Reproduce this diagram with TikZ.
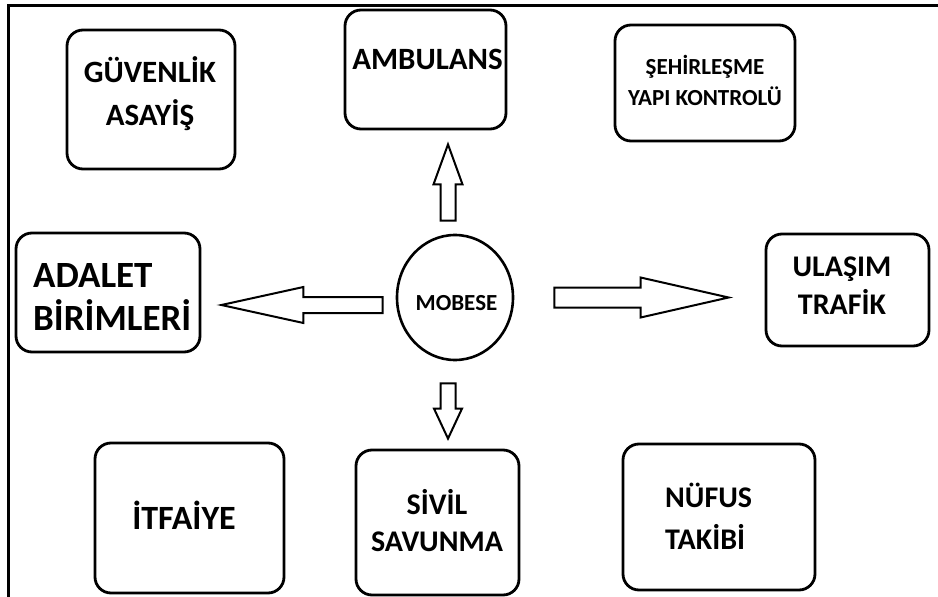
\documentclass[tikz,border=0pt]{standalone}
\usepackage{fontspec}
\setmainfont{Carlito}
\usetikzlibrary{shapes.geometric,calc}

\tikzset{
  frame/.style={line width=3pt},
  box/.style={draw, line width=2.8pt, rounded corners=16pt, inner sep=0pt},
  hub/.style={draw, ellipse, line width=2.6pt, minimum width=116pt, minimum height=125pt, inner sep=0pt},
  lbl/.style 2 args={font=\bfseries\fontsize{#1}{#2}\selectfont, align=center, inner sep=0pt, anchor=base},
  lblL/.style 2 args={font=\bfseries\fontsize{#1}{#2}\selectfont, align=left, inner sep=0pt, anchor=base west},
  barrow/.style={draw, line width=2pt, fill=white, line join=miter}
}

% from, to, shaft half width, head half width, head length
\newcommand\blockarrow[5]{%
  \coordinate (hb) at ($(#2)!#5!(#1)$);
  \draw[barrow] ($(#1)!#3!-90:(#2)$) -- ($(hb)!#3!-90:(#2)$) -- ($(hb)!#4!-90:(#2)$) -- (#2)
    -- ($(hb)!#4!90:(#2)$) -- ($(hb)!#3!90:(#2)$) -- ($(#1)!#3!90:(#2)$) -- cycle;
}

\begin{document}
\begin{tikzpicture}[x=1pt, y=-1pt]
  \useasboundingbox (0,0) rectangle (938,597);
  \draw[frame] (8,597) -- (8,5) -- (938,5);

  \node[box, minimum width=168pt, minimum height=139pt] (guv) at (151,99.5) {};
  \node[box, minimum width=161pt, minimum height=119pt] (amb) at (425.5,69.5) {};
  \node[box, minimum width=180pt, minimum height=116pt] (seh) at (705,83) {};
  \node[box, minimum width=184pt, minimum height=119pt] (ada) at (108,292.5) {};
  \node[box, minimum width=163pt, minimum height=112pt] (ula) at (847.5,290) {};
  \node[box, minimum width=189pt, minimum height=150pt] (itf) at (189.5,518) {};
  \node[box, minimum width=163pt, minimum height=145pt] (siv) at (437.5,522.5) {};
  \node[box, minimum width=192pt, minimum height=146pt] (nuf) at (719,517) {};
  \node[hub] (mob) at (455,297.5) {};

  \node[lbl={31}{43}] (guvT) at (150,125) {GÜVENLİK\\ASAYİŞ};
  \node[lbl={31}{37}] (ambT) at (427.5,69) {AMBULANS};
  \node[lbl={23}{31}] (sehT) at (705,105) {ŞEHİRLEŞME\\YAPI KONTROLÜ};
  \node[lblL={37}{43}] (adaT) at (33,330) {ADALET\\BİRİMLERİ};
  \node[lbl={30}{38}] (ulaT) at (842,314) {ULAŞIM\\TRAFİK};
  \node[lbl={34}{40}] (itfT) at (184,529) {İTFAİYE};
  \node[lbl={30}{37}] (sivT) at (437,551) {SİVİL\\SAVUNMA};
  \node[lblL={30}{42}] (nufT) at (665,549) {NÜFUS\\TAKİBİ};
  \node[lbl={23}{28}] (mobT) at (456.5,310) {MOBESE};

  \coordinate (upS) at ($(mob.north)+(-7,-13)$);
  \coordinate (upE) at ($(mob.north |- amb.south)+(-7,14)$);
  \coordinate (dnS) at ($(mob.south)+(-7,22)$);
  \coordinate (dnE) at ($(mob.south |- siv.north)+(-7,-10)$);
  \coordinate (lfS) at ($(mob.west)+(-13,7.5)$);
  \coordinate (lfE) at ($(ada.east |- mob.west)+(20,7.5)$);
  \coordinate (rtS) at ($(mob.east)+(40,0)$);
  \coordinate (rtE) at ($(ula.west |- mob.east)+(-36,0)$);

  \blockarrow{upS}{upE}{7.5pt}{14.5pt}{40pt}
  \blockarrow{dnS}{dnE}{7.5pt}{14pt}{30pt}
  \blockarrow{lfS}{lfE}{8pt}{18pt}{82pt}
  \blockarrow{rtS}{rtE}{10pt}{20pt}{88pt}
\end{tikzpicture}
\end{document}
